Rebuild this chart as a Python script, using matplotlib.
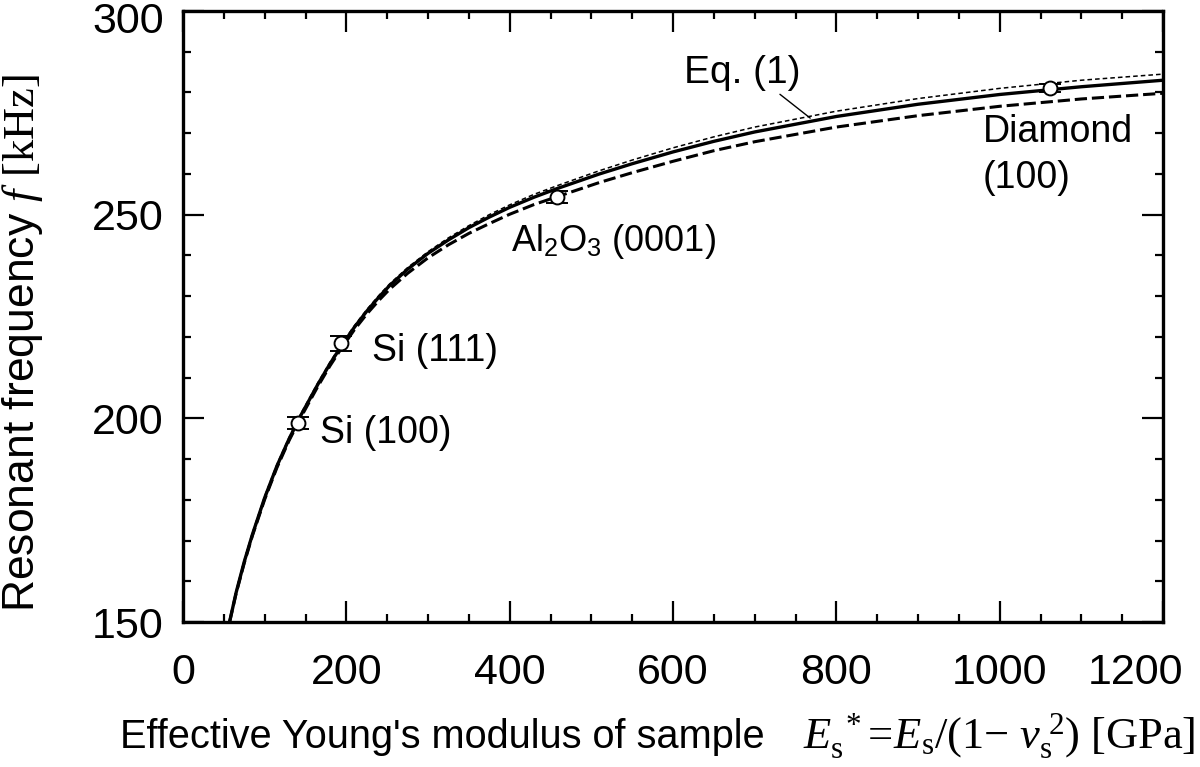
import matplotlib
import matplotlib.pyplot as plt
from matplotlib.ticker import MultipleLocator
from matplotlib.transforms import ScaledTranslation
matplotlib.use('Agg')

plt.rcParams['font.family'] = ['Liberation Sans', 'DejaVu Sans']
plt.rcParams['mathtext.fontset'] = 'custom'
plt.rcParams['mathtext.rm'] = 'Liberation Serif'
plt.rcParams['mathtext.it'] = 'Liberation Serif:italic'
plt.rcParams['mathtext.sf'] = 'Liberation Sans'

# curves: effective modulus [GPa] vs resonant frequency [kHz]
modulus = [57, 65, 75, 85, 100, 115, 130, 145, 165, 180, 194, 210, 225, 240, 253,
           275, 300, 325, 350, 375, 400, 430, 458, 510, 550, 600, 650, 700, 800,
           900, 1000, 1100, 1200]
f_solid = [150.0, 157.2, 164.8, 171.5, 180.5, 188.3, 195.0, 201.0, 208.3, 213.4,
           217.8, 222.4, 226.3, 229.8, 232.6, 236.6, 240.5, 243.8, 246.8, 249.4,
           251.8, 254.3, 256.4, 260.0, 262.5, 265.4, 268.0, 270.3, 274.1, 277.1,
           279.5, 281.4, 283.0]
f_eq1 = [150.4, 157.6, 165.2, 171.9, 180.9, 188.7, 195.4, 201.4, 208.7, 213.8,
         218.2, 222.8, 226.7, 230.2, 233.0, 237.0, 240.9, 244.3, 247.3, 250.0,
         252.4, 255.0, 257.1, 260.8, 263.4, 266.4, 269.1, 271.5, 275.4, 278.5,
         281.0, 283.0, 284.5]
f_dashed = [150.0, 157.0, 164.5, 171.2, 180.1, 187.9, 194.6, 200.5, 207.8, 212.9,
            217.2, 221.8, 225.6, 229.0, 231.7, 235.6, 239.4, 242.6, 245.4, 247.8,
            250.1, 252.5, 254.4, 257.9, 260.3, 263.1, 265.7, 267.9, 271.5, 274.3,
            276.6, 278.4, 279.8]

# measured samples
samples = ['Si (100)', 'Si (111)', 'Al$_\\mathsf{2}$O$_\\mathsf{3}$ (0001)', 'Diamond\n(100)']
sample_E = [141, 194, 458, 1062]
sample_f = [198.9, 218.4, 254.3, 281.0]
sample_err = [1.4, 1.8, 1.4, 1.0]

fig = plt.figure(figsize=(12, 7.67), dpi=100)
ax = fig.add_axes([0.1525, 0.189, 0.8167, 0.7967])

ax.plot(modulus, f_eq1, color='black', lw=1.1, linestyle=(0, (3, 2)), zorder=2)
ax.plot(modulus, f_dashed, color='black', lw=2.2, linestyle=(0, (4, 1.6)), zorder=2)
ax.plot(modulus, f_solid, color='black', lw=2.4, zorder=3)

ax.errorbar(sample_E, sample_f, yerr=sample_err, fmt='o', ms=10, mfc='white',
            mec='black', mew=1.4, ecolor='black', elinewidth=1.4, capsize=8,
            capthick=1.6, zorder=5)

ax.text(168, 194.0, samples[0], fontsize=27, va='baseline')
ax.text(231, 214.1, samples[1], fontsize=27, va='baseline')
ax.text(402, 241.0, samples[2], fontsize=26, va='baseline')
ax.text(979, 256.5, samples[3], fontsize=27, va='baseline', linespacing=1.35)
ax.annotate('Eq. (1)', xy=(768, 273.7), xytext=(614, 282.4), fontsize=28,
            va='baseline',
            arrowprops=dict(arrowstyle='-', lw=1.0, color='black',
                            relpos=(0.78, 0.0), shrinkA=1, shrinkB=0))

ax.set_xlim(0, 1200)
ax.set_ylim(150, 300)
ax.xaxis.set_major_locator(MultipleLocator(200))
ax.xaxis.set_minor_locator(MultipleLocator(50))
ax.yaxis.set_major_locator(MultipleLocator(50))
ax.yaxis.set_minor_locator(MultipleLocator(10))
ax.tick_params(which='both', direction='in', top=True, right=True, width=1.6)
ax.tick_params(which='major', length=15, labelsize=31)
ax.tick_params(axis='x', which='major', pad=22)
ax.tick_params(axis='y', which='major', pad=14)
ax.tick_params(which='minor', length=6)
for sp in ax.spines.values():
    sp.set_linewidth(2.4)

ax.set_ylabel(r'Resonant frequency $f$ $\mathrm{[kHz]}$', fontsize=32)
ax.yaxis.set_label_coords(-0.141, 0.457)

# x label: sans part plus the formula in serif, a bit larger
fig.text(0.1, 0.025, "Effective Young's modulus of sample", fontsize=28.6,
         ha='left', va='baseline')
fig.text(0.996, 0.025,
         r"$E_\mathrm{s}^{\ *}\!=\!E_\mathrm{s}/(1\mathrm{-}\ \nu_\mathrm{s}^{\ 2})\ \mathrm{[GPa]}$",
         fontsize=32, ha='right', va='baseline')

# end labels sit a little inside, as in the original
fig.canvas.draw()
for lab in ax.get_xticklabels():
    if lab.get_text() == '1200':
        lab.set_transform(lab.get_transform()
                          + ScaledTranslation(-0.28, 0, fig.dpi_scale_trans))
for lab in ax.get_yticklabels():
    if lab.get_text() == '300':
        lab.set_transform(lab.get_transform()
                          + ScaledTranslation(0, -0.07, fig.dpi_scale_trans))

fig.savefig('out.png', dpi=100)
plt.close()
